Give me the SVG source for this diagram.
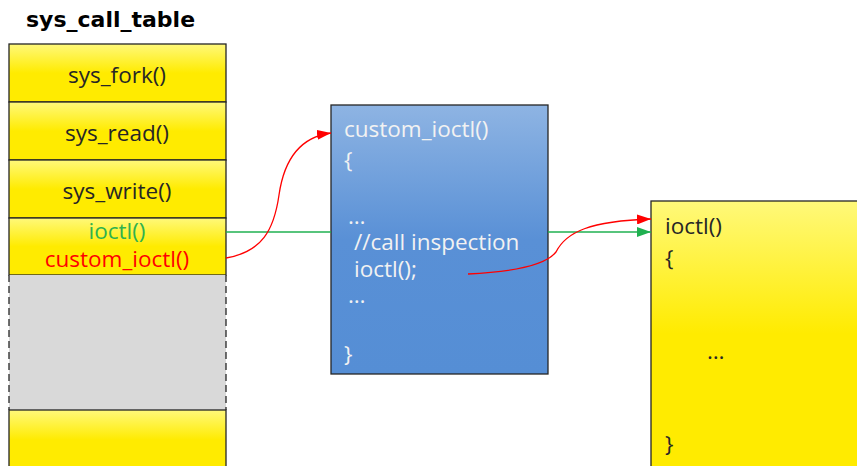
<svg xmlns="http://www.w3.org/2000/svg" width="857" height="466" viewBox="0 0 857 466">
<defs>
<linearGradient id="yel" x1="0" y1="0" x2="0" y2="1">
<stop offset="0" stop-color="#fff97a"/>
<stop offset="0.5" stop-color="#ffeb00"/>
<stop offset="1" stop-color="#ffeb00"/>
</linearGradient>
<linearGradient id="yelbig" gradientUnits="userSpaceOnUse" x1="0" y1="201" x2="0" y2="466">
<stop offset="0" stop-color="#fff97a"/>
<stop offset="0.5" stop-color="#ffeb00"/>
<stop offset="1" stop-color="#ffeb00"/>
</linearGradient>
<linearGradient id="yelbot" gradientUnits="userSpaceOnUse" x1="0" y1="410" x2="0" y2="440">
<stop offset="0" stop-color="#fff97a"/>
<stop offset="1" stop-color="#ffeb00"/>
</linearGradient>
<linearGradient id="blue" x1="0" y1="0" x2="0" y2="1">
<stop offset="0" stop-color="#8eb4e3"/>
<stop offset="0.5" stop-color="#5990d6"/>
<stop offset="1" stop-color="#558ed5"/>
</linearGradient>
<marker id="ared" markerWidth="14" markerHeight="10" refX="14" refY="5" orient="auto" markerUnits="userSpaceOnUse">
<path d="M0,0 L14,5 L0,10 Z" fill="#ff0000"/>
</marker>
<marker id="agreen" markerWidth="14" markerHeight="10" refX="14" refY="5" orient="auto" markerUnits="userSpaceOnUse">
<path d="M0,0 L14,5 L0,10 Z" fill="#1fb050"/>
</marker>
</defs>
<style>
.cell{stroke:#262626;stroke-width:1.3}
.t{font-family:"Open Sans","Liberation Sans",sans-serif;font-size:22.5px}
.c{text-anchor:middle}
.w{fill:#f2f2f2}
.k{fill:#262626}
</style>
<text x="26" y="27" font-family="DejaVu Sans" font-weight="bold" font-size="22" fill="#000">sys_call_table</text>

<g id="table">
<g id="sys_fork"><rect class="cell" x="9" y="44" width="217" height="58" fill="url(#yel)"/><text class="t c k" x="117" y="83">sys_fork()</text></g>
<g id="sys_read"><rect class="cell" x="9" y="102" width="217" height="58" fill="url(#yel)"/><text class="t c k" x="117" y="141">sys_read()</text></g>
<g id="sys_write"><rect class="cell" x="9" y="160" width="217" height="58" fill="url(#yel)"/><text class="t c k" x="117" y="199">sys_write()</text></g>
<g id="ioctl_entry"><rect class="cell" x="9" y="218" width="217" height="57" fill="url(#yel)"/>
<text class="t c" x="117" y="239" fill="#2fb14f" font-size="22">ioctl()</text>
<text class="t c" x="117" y="267" fill="#ff0000" font-size="22">custom_ioctl()</text></g>
<g id="empty"><rect x="9" y="275" width="217" height="135" fill="#d9d9d9"/>
<path d="M9,275 V410 M226,275 V410" stroke="#262626" stroke-width="1.3" stroke-dasharray="7,4" fill="none"/></g>
<g id="bottom"><rect class="cell" x="9" y="410" width="217" height="70" fill="url(#yelbot)"/></g>
</g>

<g id="custom_ioctl">
<rect class="cell" x="331" y="105" width="217" height="269" fill="url(#blue)"/>
<text class="t w" x="344" y="137">custom_ioctl()</text>
<text class="t w" x="344" y="168">{</text>
<text class="t w" x="348" y="224" font-size="17">…</text>
<text class="t w" x="354" y="250" font-size="18">//call inspection</text>
<text class="t w" x="354" y="277" font-size="18">ioctl();</text>
<text class="t w" x="348" y="303" font-size="17">…</text>
<text class="t w" x="344" y="362">}</text>
</g>

<g id="ioctl">
<rect class="cell" x="651" y="201" width="220" height="280" fill="url(#yelbig)"/>
<text class="t k" x="665" y="234">ioctl()</text>
<text class="t k" x="665" y="266">{</text>
<text class="t k" x="707" y="359" font-size="17">…</text>
<text class="t k" x="665" y="452">}</text>
</g>

<g id="connectors" fill="none">
<path d="M226,232 H331" stroke="#1fb050" stroke-width="1.3"/>
<path d="M548,232 H651" stroke="#1fb050" stroke-width="1.3" marker-end="url(#agreen)"/>
<path d="M226,258 C262,252 274,230 279,195 C284,160 300,137 331,133" stroke="#ff0000" stroke-width="1.3" marker-end="url(#ared)"/>
<path d="M468,274 C510,272 545,266 556,252 C566,232 590,221 651,219" stroke="#ff0000" stroke-width="1.3" marker-end="url(#ared)"/>
</g>
</svg>
